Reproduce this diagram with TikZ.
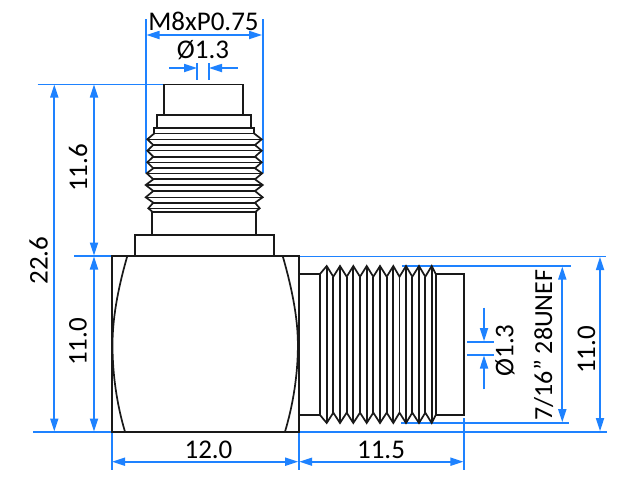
\documentclass[tikz,border=0pt]{standalone}
\usepackage{fontspec}
\setmainfont{Carlito}
\usetikzlibrary{arrows.meta}
\definecolor{dimblue}{RGB}{30,130,255}
\definecolor{part}{RGB}{25,25,25}
\tikzset{
  partline/.style={draw=part,line width=1.7pt,line join=miter},
  threadline/.style={draw=part,line width=1.7pt},
  valleyline/.style={draw=part,line width=2pt},
  peakline/.style={draw=part,line width=1.2pt},
  extline/.style={draw=dimblue,line width=1.7pt},
  dimarrow/.style={draw=dimblue,line width=1.7pt,-{Triangle[length=13pt,width=8pt,fill=dimblue]}},
  dimboth/.style={draw=dimblue,line width=1.7pt,{Triangle[length=13pt,width=8pt,fill=dimblue]}-{Triangle[length=13pt,width=8pt,fill=dimblue]}},
  dimtext/.style={inner sep=0pt,text=black,font=\fontsize{27}{28}\selectfont}
}
\begin{document}
\begin{tikzpicture}[x=1pt,y=-1pt]
\useasboundingbox (0,0) rectangle (640,480);
\fill[white] (0,0) rectangle (640,480);
% extension lines
\draw[extline] (37.5,84.5) -- (163.7,84.5);
\draw[extline] (145.7,19) -- (145.7,173.3);
\draw[extline] (262.7,19) -- (262.7,173.3);
\draw[extline] (197.3,63) -- (197.3,80);
\draw[extline] (208.7,63) -- (208.7,80);
\draw[extline] (74,256) -- (111.7,256);
\draw[extline] (298.7,256.5) -- (606,256.5);
\draw[extline] (33,431.7) -- (607,431.7);
\draw[extline] (401.5,266) -- (570.5,266);
\draw[extline] (401,422.7) -- (569,422.7);
\draw[extline] (467,341.7) -- (494.3,341.7);
\draw[extline] (467,355) -- (494.3,355);
\draw[extline] (111.7,431.7) -- (111.7,470);
\draw[extline] (298.7,431.7) -- (298.7,470);
\draw[extline] (463.7,418) -- (463.7,470);
% dimension arrows
\draw[dimboth] (146.5,35) -- (262,35);
\draw[dimarrow] (169,68) -- (197,68);
\draw[dimarrow] (237.7,68) -- (209,68);
\draw[dimboth] (54.3,84.5) -- (54.3,431.5);
\draw[dimboth] (94,84.5) -- (94,255.5);
\draw[dimboth] (94,256.5) -- (94,431.5);
\draw[dimboth] (112,461.7) -- (298.2,461.7);
\draw[dimboth] (299.2,461.7) -- (463.4,461.7);
\draw[dimboth] (600,257) -- (600,431.2);
\draw[dimboth] (562.3,266.5) -- (562.3,422.2);
\draw[dimarrow] (484,307.7) -- (484,341.2);
\draw[dimarrow] (484,389.3) -- (484,355.5);
% vertical connector: pin, collars
\draw[partline] (163.7,115) -- (163.7,84.5) -- (242.7,84.5) -- (242.7,115);
\draw[partline] (157,115) rectangle (250.7,128);
\draw[partline] (154.3,128) rectangle (254,133.4);
% thread, vertical part
\foreach \y/\l/\r in {139.3/147.3/261.7,150.7/147.3/261.7,162.3/147.3/261.7,173.3/146.7/262.2,185/145.7/262.7,197.3/145.7/262.7,208.3/148.3/259.7}{
  \draw[peakline] (\l,\y) -- (\r,\y);
}
\foreach \y in {145,156.7,168.3,179.3,191,202.7}{
  \draw[valleyline] (153.3,\y) -- (255,\y);
}
\draw[threadline,line join=miter] (154.3,133.4) -- (147.3,139.3) -- (153.3,145) -- (147.3,150.7) -- (153.3,156.7) -- (147.3,162.3) -- (153.3,168.3) -- (146.7,173.3) -- (153.3,179.3) -- (145.7,185) -- (153.3,191) -- (145.7,197.3) -- (153.3,202.7) -- (148.3,208.3) -- (152.3,211.7);
\draw[threadline,line join=miter] (254,133.4) -- (261.7,139.3) -- (255,145) -- (261.7,150.7) -- (255,156.7) -- (261.7,162.3) -- (255,168.3) -- (262.2,173.3) -- (255,179.3) -- (262.7,185) -- (255,191) -- (262.7,197.3) -- (255,202.7) -- (259.7,208.3) -- (255.7,211.7);
\draw[partline] (152.3,235) -- (152.3,211.7) -- (255.7,211.7) -- (255.7,235);
\draw[partline] (135,256) -- (135,235) -- (274.3,235) -- (274.3,256);
% body
\draw[partline] (111.7,256) rectangle (298.7,431.7);
\draw[partline] (127.3,256) .. controls (117,292) and (112.5,320) .. (112.5,345) .. controls (112.5,375) and (117,405) .. (125,431.7);
\draw[partline] (282.7,256) .. controls (293,292) and (297.9,320) .. (297.9,345) .. controls (297.9,375) and (293,405) .. (285,431.7);
% horizontal part
\draw[partline] (298.7,274) -- (320,274);
\draw[partline] (298.7,415) -- (320,415);
\foreach \x/\a/\b in {320/274/415,326.7/266/423,333.3/276.7/412.7,340/266/423,346.7/276.7/412.7,353.3/266/423,360/276.7/412.7,366.7/266/423,373.3/276.7/412.7,380/266/423,386.7/276.7/412.7,393.3/266/423,399.5/276.7/412.7,406/266/423,412.3/276.7/412.7,419/266/423,425.3/276.7/412.7,431.7/266/423,435.7/274/415}{
  \draw[threadline] (\x,\a) -- (\x,\b);
}
\draw[threadline,line join=miter] (320,274) -- (326.7,266) -- (333.3,276.7) -- (340,266) -- (346.7,276.7) -- (353.3,266) -- (360,276.7) -- (366.7,266) -- (373.3,276.7) -- (380,266) -- (386.7,276.7) -- (393.3,266) -- (399.5,276.7) -- (406,266) -- (412.3,276.7) -- (419,266) -- (425.3,276.7) -- (431.7,266) -- (435.7,274);
\draw[threadline,line join=miter] (320,415) -- (326.7,423) -- (333.3,412.7) -- (340,423) -- (346.7,412.7) -- (353.3,423) -- (360,412.7) -- (366.7,423) -- (373.3,412.7) -- (380,423) -- (386.7,412.7) -- (393.3,423) -- (399.5,412.7) -- (406,423) -- (412.3,412.7) -- (419,423) -- (425.3,412.7) -- (431.7,423) -- (435.7,415);
\draw[partline] (435.7,274) -- (463.7,274) -- (463.7,415) -- (435.7,415);
% texts
\node[dimtext] (tM) at (203.5,21.5) {M8xP0.75};
\node[dimtext] (tDa) at (203,50.5) {Ø1.3};
\node[dimtext,rotate=90] (t226) at (38.5,260.5) {22.6};
\node[dimtext,rotate=90] (t116) at (78,168) {11.6};
\node[dimtext,rotate=90] (t110l) at (78,342) {11.0};
\node[dimtext] (t120) at (208.5,449.5) {12.0};
\node[dimtext] (t115) at (381,449.5) {11.5};
\node[dimtext,rotate=90] (tDb) at (505,350.5) {Ø1.3};
\node[dimtext,rotate=90,font=\fontsize{26}{28}\selectfont] (tU) at (543.5,345) {7/16” 28UNEF};
\node[dimtext,rotate=90] (t110r) at (586.5,350) {11.0};
\end{tikzpicture}
\end{document}
